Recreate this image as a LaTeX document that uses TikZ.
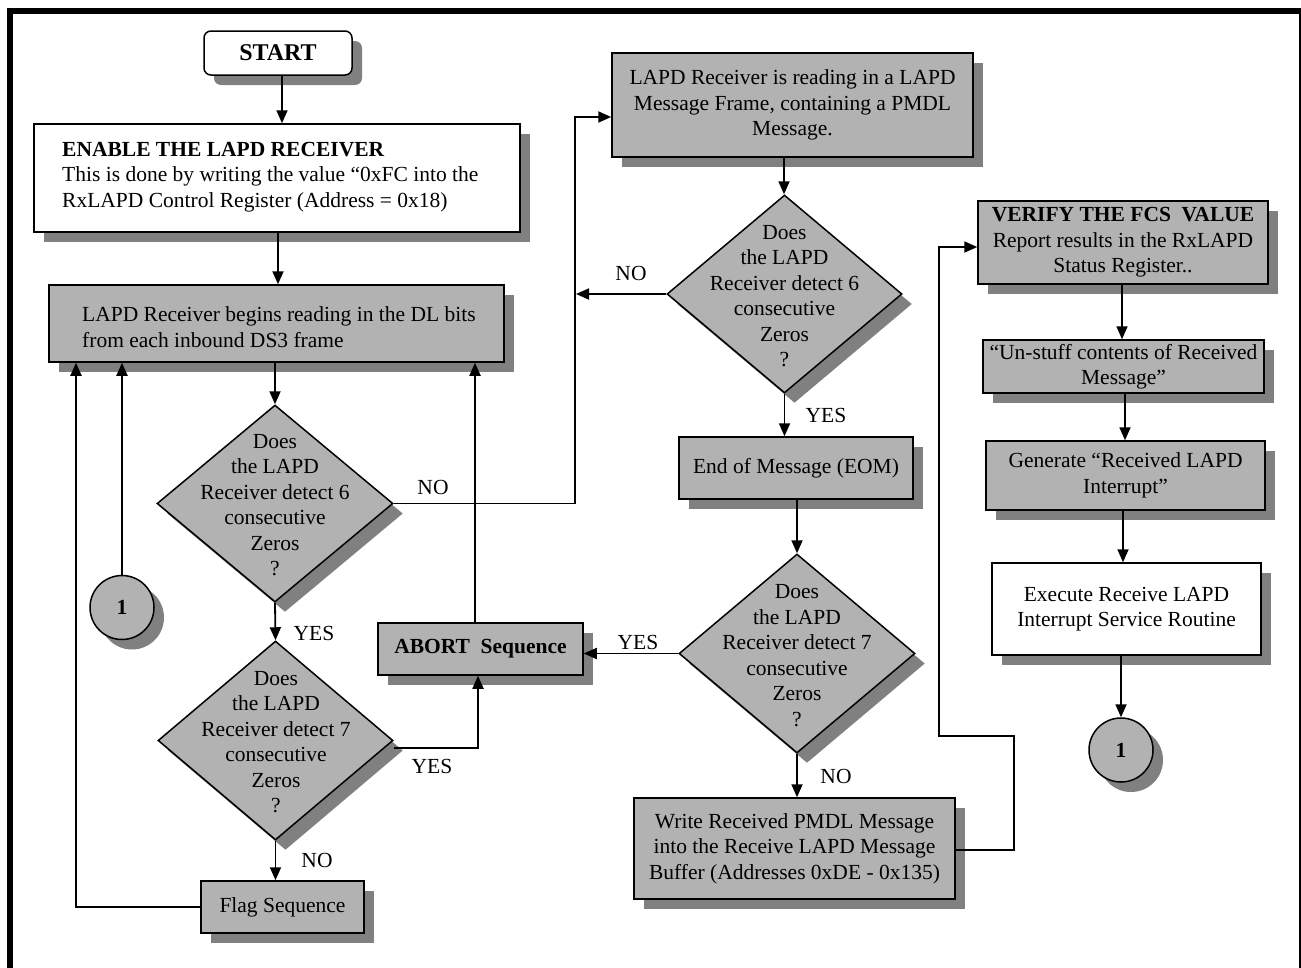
\documentclass[tikz,border=0pt]{standalone}
\usepackage{fontspec}
\setmainfont{Liberation Serif}
\usetikzlibrary{shapes.geometric,arrows.meta,shadows}
\definecolor{boxgray}{RGB}{178,178,178}
\definecolor{shgray}{RGB}{128,128,128}
\begin{document}
\begin{tikzpicture}[x=1pt,y=-1pt,
  every node/.style={font=\fontsize{21.5}{25.5}\selectfont, inner sep=0pt},
  shad/.style={drop shadow={shadow xshift=10pt,shadow yshift=-10pt,opacity=1,fill=shgray}},
  gbox/.style={draw, line width=1.5pt, fill=boxgray, shad, rectangle},
  wbox/.style={draw, line width=1.5pt, fill=white, shad, rectangle},
  dec/.style={draw, line width=1.5pt, fill=boxgray, shad, diamond},
  conn/.style={draw, line width=1.5pt, fill=boxgray, shad, circle, minimum size=64pt, font=\fontsize{21.5}{25.5}\selectfont\bfseries},
  arr/.style={line width=1.8pt, -{Triangle[length=13pt,width=11pt]}},
  ln/.style={line width=1.8pt}]
\useasboundingbox (0,0) rectangle (1301,967);
\clip (0,0) rectangle (1301,967);
\fill[white] (0,0) rectangle (1301,967);
\draw[line width=6pt] (10,1000) -- (10,10.5) -- (1302,10.5) -- (1302,1000);

% left column
\node[wbox, rounded corners=7pt, minimum width=148pt, minimum height=44pt, font=\fontsize{24}{28}\selectfont\bfseries] (start) at (278,53) {START};
\node[wbox, minimum width=486pt, minimum height=108pt] (enable) at (277,178) {};
\node[anchor=west, align=left] (enable-t) at (62,177) {\textbf{ENABLE THE LAPD RECEIVER}\\This is done by writing the value “0xFC into the\\RxLAPD Control Register (Address = 0x18)};
\node[gbox, minimum width=455pt, minimum height=77pt] (begin) at (276.5,323.5) {};
\node[anchor=west, align=left] (begin-t) at (82,327) {LAPD Receiver begins reading in the DL bits\\from each inbound DS3 frame};
\node[dec, minimum width=236pt, minimum height=197pt] (d1) at (275,503.5) {};
\node[align=center] (d1-t) at (275,505) {Does\\the LAPD\\Receiver detect 6\\consecutive\\Zeros\\?};
\node[conn] (c1) at (122,607.5) {1};
\node[dec, minimum width=235pt, minimum height=199pt] (d2) at (275.5,740.5) {};
\node[align=center] (d2-t) at (276,742) {Does\\the LAPD\\Receiver detect 7\\consecutive\\Zeros\\?};
\node[gbox, minimum width=205pt, minimum height=52pt, font=\fontsize{21.5}{25.5}\selectfont\bfseries] (abort) at (480.5,649) {ABORT\ \ Sequence};
\node[gbox, minimum width=163pt, minimum height=52pt] (flag) at (282.5,907) {Flag Sequence};

% middle column
\node[gbox, minimum width=361pt, minimum height=104pt, align=center] (read) at (792.5,105) {LAPD Receiver is reading in a LAPD\\Message Frame, containing a PMDL\\Message.};
\node[dec, minimum width=235pt, minimum height=198pt] (d3) at (784.5,294) {};
\node[align=center] (d3-t) at (784.5,296) {Does\\the LAPD\\Receiver detect 6\\consecutive\\Zeros\\?};
\node[gbox, minimum width=234pt, minimum height=62pt] (eom) at (796,468) {End of Message (EOM)};
\node[dec, minimum width=236pt, minimum height=199pt] (d4) at (797,653.5) {};
\node[align=center] (d4-t) at (797,655.5) {Does\\the LAPD\\Receiver detect 7\\consecutive\\Zeros\\?};
\node[gbox, minimum width=321pt, minimum height=101pt, align=center] (write) at (794.5,848.5) {Write Received PMDL Message\\into the Receive LAPD Message\\Buffer (Addresses 0xDE - 0x135)};

% right column
\node[gbox, minimum width=290pt, minimum height=83pt, align=center] (verify) at (1123,242.5) {\textbf{VERIFY THE FCS\ \ VALUE}\\Report results in the RxLAPD\\Status Register..};
\node[gbox, minimum width=281pt, minimum height=53pt, align=center] (unstuff) at (1123.5,366.5) {“Un-stuff contents of Received\\Message”};
\node[gbox, minimum width=279pt, minimum height=69pt, align=center] (gen) at (1125.5,475.5) {Generate “Received LAPD\\Interrupt”};
\node[wbox, minimum width=269pt, minimum height=92pt, align=center] (exec) at (1126.5,609) {Execute Receive LAPD\\Interrupt Service Routine};
\node[conn] (c2) at (1121,750) {1};

% connectors
\draw[arr] (282,0 |- start.south) -- (282,0 |- enable.north);
\draw[arr] (278,0 |- enable.south) -- (278,0 |- begin.north);
\draw[arr] (d1.north |- begin.south) -- (d1.north);
\draw[arr] (d1.east) -- (575,0 |- d1.east) -- (575,117) -- (read.west |- 0,117);
\node (no1) at (433,487) {NO};
\draw[arr] (d1.south) -- (d2.north);
\node (yes1) at (314,633) {YES};
\draw[arr] (d2.east |- 0,748) -- (478,748) -- (478,0 |- abort.south);
\node (yes2) at (432,766) {YES};
\draw[arr] (475,0 |- abort.north) -- (475,0 |- begin.south);
\draw[arr] (d2.south) -- (d2.south |- flag.north);
\node (no2) at (317,860) {NO};
\draw[arr] (flag.west) -- (76,0 |- flag.west) -- (76,0 |- begin.south);
\draw[arr] (c1.north) -- (c1.north |- begin.south);
\draw[arr] (784,0 |- read.south) -- (784,0 |- d3.north);
\draw[arr] (d3.west) -- (576,0 |- d3.west);
\node (no3) at (631,273) {NO};
\draw[arr] (d3.south) -- (d3.south |- eom.north);
\node (yes3) at (826,415) {YES};
\draw[arr] (d4.north |- eom.south) -- (d4.north);
\draw[arr] (d4.west) -- (d4.west -| abort.east);
\node (yes4) at (638,642) {YES};
\draw[arr] (d4.south) -- (d4.south |- write.north);
\node (no4) at (836,776) {NO};
\draw[arr] (write.east |- 0,850) -- (1014,850) -- (1014,736) -- (939,736) -- (939,247) -- (verify.west |- 0,247);
\draw[arr] (1122,0 |- verify.south) -- (1122,0 |- unstuff.north);
\draw[arr] (1125,0 |- unstuff.south) -- (1125,0 |- gen.north);
\draw[arr] (1123,0 |- gen.south) -- (1123,0 |- exec.north);
\draw[arr] (c2.north |- exec.south) -- (c2.north);
\end{tikzpicture}
\end{document}
